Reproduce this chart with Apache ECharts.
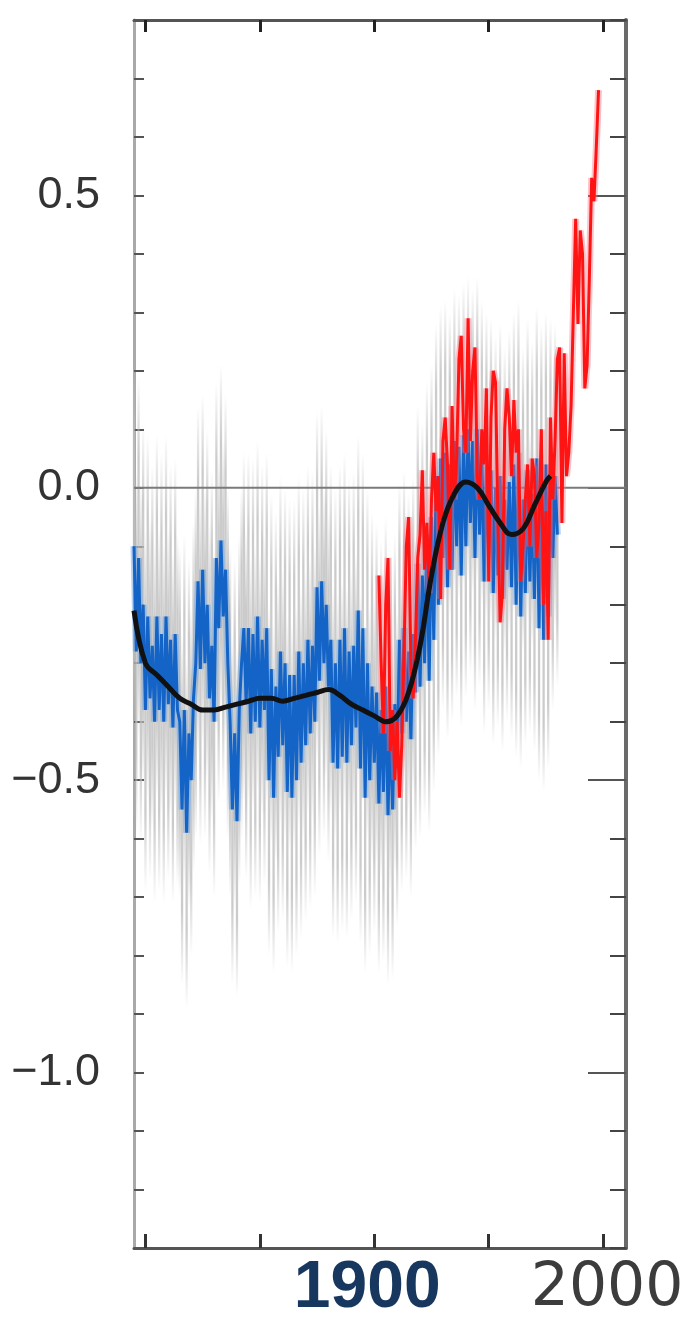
<!DOCTYPE html>
<html>
<head>
<meta charset="utf-8">
<script src="https://cdn.jsdelivr.net/npm/echarts@6/dist/echarts.min.js"></script>
<style>
  html, body { margin: 0; padding: 0; background: #ffffff; }
  #chart { width: 698px; height: 1332px; }
</style>
</head>
<body>
<div id="chart"></div>
<script>
// proxy reconstruction (blue), one value per year from 1795
const proxyStart = 1795;
const proxyValues = [
  -0.10, -0.28, -0.12, -0.30, -0.20, -0.38, -0.22, -0.36, -0.27, -0.40,
  -0.22, -0.38, -0.25, -0.40, -0.22, -0.37, -0.26, -0.41, -0.25, -0.38,
  -0.40, -0.55, -0.38, -0.59, -0.42, -0.50, -0.36, -0.30, -0.16, -0.31,
  -0.14, -0.30, -0.20, -0.36, -0.27, -0.40, -0.12, -0.24, -0.09, -0.22,
  -0.14, -0.30, -0.40, -0.55, -0.42, -0.57, -0.38, -0.30, -0.24, -0.37,
  -0.24, -0.42, -0.25, -0.40, -0.22, -0.41, -0.26, -0.38, -0.24, -0.50,
  -0.31, -0.53, -0.34, -0.46, -0.28, -0.44, -0.30, -0.52, -0.32, -0.53,
  -0.32, -0.50, -0.28, -0.47, -0.30, -0.44, -0.26, -0.42, -0.27, -0.40,
  -0.17, -0.33, -0.16, -0.30, -0.20, -0.34, -0.26, -0.47, -0.30, -0.48,
  -0.26, -0.46, -0.24, -0.47, -0.28, -0.44, -0.27, -0.41, -0.21, -0.48,
  -0.24, -0.53, -0.30, -0.50, -0.34, -0.47, -0.35, -0.54, -0.38, -0.52,
  -0.34, -0.56, -0.40, -0.55, -0.37, -0.48, -0.26, -0.42, -0.24, -0.40,
  -0.28, -0.43, -0.25, -0.35, -0.13, -0.34, -0.15, -0.30, -0.08, -0.33,
  -0.05, -0.26, 0.02, -0.20, 0.05, -0.12, 0.06, -0.17, 0.04, -0.14,
  0.08, -0.10, 0.07, -0.15, 0.09, -0.10, 0.10, -0.06, 0.08, -0.12,
  0.10, -0.08, 0.06, -0.16, 0.04, -0.12, 0.03, -0.18, 0.00, -0.15,
  0.02, -0.19, -0.02, -0.14, 0.01, -0.17, 0.04, -0.20, 0.06, -0.22,
  -0.02, -0.18, 0.03, -0.16, -0.01, -0.19, 0.05, -0.24, 0.02, -0.26,
  0.04, -0.22, 0.03, -0.12, 0.02, -0.08
];

// thermometer record (red), one value per year from 1902
const instrStart = 1902;
const instrValues = [
  -0.15, -0.30, -0.42, -0.20, -0.12, -0.45, -0.38, -0.50, -0.40, -0.53,
  -0.44, -0.28, -0.10, -0.05, -0.30, -0.36, -0.26, -0.12, -0.08, 0.03,
  -0.14, -0.06, -0.18, -0.02, 0.06, -0.04, 0.02, -0.19, 0.08, 0.12,
  0.04, -0.14, 0.14, -0.02, 0.05, 0.22, 0.26, 0.10, 0.06, 0.29,
  0.08, 0.20, 0.24, 0.02, -0.02, 0.10, 0.04, 0.17, -0.16, 0.12,
  0.20, 0.18, -0.05, -0.23, -0.18, 0.10, 0.17, 0.12, 0.02, 0.15,
  0.06, 0.10, -0.16, -0.10, -0.02, 0.04, -0.10, 0.05, 0.02, -0.12,
  -0.06, 0.10, -0.20, -0.04, -0.26, 0.12, -0.02, 0.08, 0.22, 0.24,
  -0.06, 0.23, 0.02, 0.06, 0.14, 0.30, 0.46, 0.28, 0.44, 0.40,
  0.17, 0.21, 0.36, 0.53, 0.49, 0.58, 0.68
];

// smoothed curve (black)
const smoothYears = [1795, 1800, 1805, 1810, 1815, 1820, 1825, 1830, 1835, 1840,
  1845, 1850, 1855, 1860, 1865, 1870, 1875, 1880, 1885, 1890,
  1895, 1900, 1905, 1910, 1915, 1920, 1925, 1930, 1935, 1940,
  1945, 1950, 1955, 1960, 1965, 1970, 1975, 1977];
const smoothValues = [-0.21, -0.30, -0.32, -0.34, -0.36, -0.37, -0.38, -0.38, -0.375, -0.37,
  -0.365, -0.36, -0.36, -0.365, -0.36, -0.355, -0.35, -0.345, -0.355, -0.37,
  -0.38, -0.39, -0.40, -0.39, -0.35, -0.27, -0.15, -0.06, -0.01, 0.01,
  0.00, -0.03, -0.06, -0.08, -0.07, -0.03, 0.01, 0.02];

// uncertainty half-width (grey) per decade starting 1790
const uncDecades = [1790, 1800, 1810, 1820, 1830, 1840, 1850, 1860, 1870, 1880,
  1890, 1900, 1910, 1920, 1930, 1940, 1950, 1960, 1970, 1980];
const uncHalf = [0.31, 0.31, 0.30, 0.30, 0.30, 0.30, 0.30, 0.30, 0.30, 0.30,
  0.30, 0.29, 0.27, 0.26, 0.26, 0.26, 0.26, 0.26, 0.26, 0.26];

// axes
const xMin = 1795, xMax = 2010;
const yMin = -1.3, yMax = 0.8;
const xTickYears = [1800, 1850, 1900, 1950, 2000];
const xLabelYears = [1900, 2000];
const yLabelValues = [-1.0, -0.5, 0.0, 0.5];

// [year, value] pairs
const proxyData = proxyValues.map((v, i) => [proxyStart + i, v]);
const instrData = instrValues.map((v, i) => [instrStart + i, v]);
const smoothData = smoothYears.map((y, i) => [y, smoothValues[i]]);

// [year, low, high] for the grey range
const greyData = proxyData.map(d => {
  const u = uncHalf[uncDecades.indexOf(Math.floor(d[0] / 10) * 10)];
  return [d[0], d[1] - u, d[1] + u];
});

const greyFill = new echarts.graphic.LinearGradient(0, 0, 0, 1, [
  { offset: 0, color: 'rgba(190,190,190,0)' },
  { offset: 0.22, color: 'rgba(190,190,190,0.8)' },
  { offset: 0.78, color: 'rgba(190,190,190,0.8)' },
  { offset: 1, color: 'rgba(190,190,190,0)' }
]);

function renderGrey(params, api) {
  const hi = api.coord([api.value(0), api.value(2)]);
  const lo = api.coord([api.value(0), api.value(1)]);
  const w = api.size([1, 0])[0];
  return {
    type: 'rect',
    shape: { x: hi[0] - w / 2, y: hi[1], width: w, height: lo[1] - hi[1] },
    style: { fill: greyFill }
  };
}

const chart = echarts.init(document.getElementById('chart'), null, { renderer: 'canvas' });

const option = {
  backgroundColor: '#ffffff',
  animation: false,
  grid: { left: 134, right: 72, top: 20, bottom: 84, outerBoundsMode: 'none' },
  xAxis: [{
    type: 'value', position: 'bottom', min: xMin, max: xMax,
    axisLine: { show: true, onZero: false, lineStyle: { color: '#555', width: 3 } },
    axisTick: { show: true, inside: true, length: 14, customValues: xTickYears, lineStyle: { color: '#333', width: 3 } },
    axisLabel: {
      customValues: xLabelYears, margin: 8,
      formatter: v => (v === 1900 ? '{a|1900}' : '{b|' + v + '}'),
      rich: {
        a: { fontSize: 66, fontWeight: 'bold', color: '#17375e', fontFamily: 'Liberation Sans', lineHeight: 66, padding: [0, 14, 0, 0] },
        b: { fontSize: 60, color: '#3c3c3c', fontFamily: 'DejaVu Sans', lineHeight: 66, padding: [0, 0, 0, 8] }
      }
    },
    splitLine: { show: false }
  }, {
    type: 'value', position: 'top', min: xMin, max: xMax,
    axisLine: { show: true, onZero: false, lineStyle: { color: '#555', width: 3 } },
    axisTick: { show: true, inside: true, length: 12, customValues: xTickYears, lineStyle: { color: '#222', width: 3 } },
    axisLabel: { show: false },
    splitLine: { show: false }
  }],
  yAxis: [{
    type: 'value', position: 'left', min: yMin, max: yMax, interval: 0.1,
    axisLine: { show: true, onZero: false, lineStyle: { color: '#a9a9a9', width: 3 } },
    axisTick: { show: true, inside: true, length: 10, lineStyle: { color: '#555', width: 2 } },
    axisLabel: {
      customValues: yLabelValues, margin: 34,
      formatter: v => v.toFixed(1).replace('-', '\u2212'),
      fontSize: 45, color: '#333', fontFamily: 'Liberation Sans'
    },
    splitLine: { show: false }
  }, {
    type: 'value', position: 'right', min: yMin, max: yMax, interval: 0.1,
    axisLine: { show: true, onZero: false, lineStyle: { color: '#6a6a6a', width: 4 } },
    axisTick: { show: true, inside: true, length: 16, lineStyle: { color: '#444', width: 2 } },
    axisLabel: { show: false },
    splitLine: { show: false }
  }, {
    type: 'value', position: 'right', min: yMin, max: yMax, interval: 0.1,
    axisLine: { show: false },
    axisTick: { show: true, inside: true, length: 38, customValues: yLabelValues, lineStyle: { color: '#555', width: 2 } },
    axisLabel: { show: false },
    splitLine: { show: false }
  }],
  series: [
    // grey uncertainty range
    { type: 'custom', data: greyData, renderItem: renderGrey, silent: true,
      encode: { x: 0, y: [1, 2] } },
    // zero line
    { type: 'line', data: [[xMin, 0], [xMax, 0]], symbol: 'none', silent: true,
      lineStyle: { color: '#7a7a7a', width: 2 } },
    // proxy
    { type: 'line', data: proxyData, symbol: 'none', silent: true,
      lineStyle: { color: 'rgba(100,160,225,0.45)', width: 7 } },
    { type: 'line', data: proxyData, symbol: 'none', silent: true,
      lineStyle: { color: '#1463c6', width: 3 } },
    // thermometer
    { type: 'line', data: instrData, symbol: 'none', silent: true,
      lineStyle: { color: 'rgba(255,110,125,0.4)', width: 7 } },
    { type: 'line', data: instrData, symbol: 'none', silent: true,
      lineStyle: { color: '#ff1414', width: 3 } },
    // smoothed
    { type: 'line', data: smoothData, symbol: 'none', silent: true, smooth: 0.4,
      lineStyle: { color: '#111', width: 5 } }
  ]
};

chart.setOption(option);
</script>
</body>
</html>
